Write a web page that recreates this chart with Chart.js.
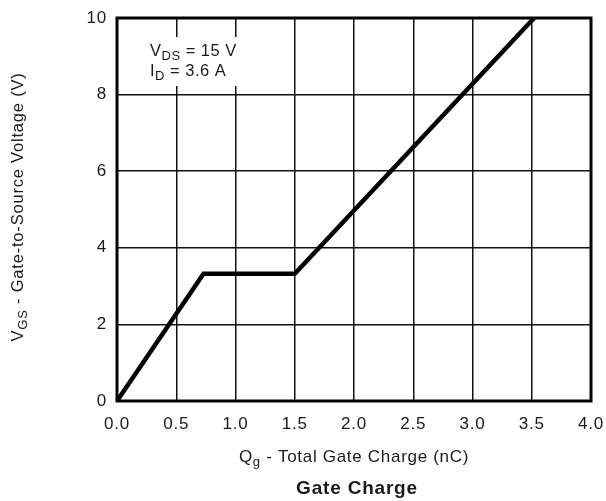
<!DOCTYPE html>
<html>
<head>
<meta charset="utf-8">
<script src="https://cdn.jsdelivr.net/npm/chart.js@4/dist/chart.umd.min.js"></script>
<style>
  html, body { margin: 0; padding: 0; background: #fff; }
  #wrap { width: 606px; height: 501px; }
</style>
</head>
<body>
<div id="wrap"><canvas id="c" width="606" height="501"></canvas></div>
<script>
// Gate charge curve: total gate charge (nC) vs. gate-to-source voltage (V)
const gateCharge = [0, 0.73, 1.5, 3.52];
const gateVoltage = [0, 3.32, 3.32, 10];

// Axis ranges and tick steps
const xRange = [0, 4];
const xStep = 0.5;
const yRange = [0, 10];
const yStep = 2;

// Test-condition note
const noteLines = [
  { main: 'V', sub: 'DS', rest: ' = 15 V' },
  { main: 'I', sub: 'D', rest: ' = 3.6 A' }
];

const FONT = '"Liberation Sans", Arial, Helvetica, sans-serif';
const TEXT = '#1a1a1a';

function drawSubText(ctx, x, y, main, sub, rest, size, align) {
  const subSize = Math.round(size * 0.78);
  ctx.font = size + 'px ' + FONT;
  const wMain = ctx.measureText(main).width;
  ctx.font = subSize + 'px ' + FONT;
  const wSub = ctx.measureText(sub).width;
  ctx.font = size + 'px ' + FONT;
  const wRest = ctx.measureText(rest).width;
  const total = wMain + wSub + wRest;
  const start = align === 'center' ? x - total / 2 : x;
  ctx.textAlign = 'left';
  ctx.textBaseline = 'alphabetic';
  ctx.font = size + 'px ' + FONT;
  ctx.fillText(main, start, y);
  ctx.font = subSize + 'px ' + FONT;
  ctx.fillText(sub, start + wMain, y + size * 0.22);
  ctx.font = size + 'px ' + FONT;
  ctx.fillText(rest, start + wMain + wSub, y);
}

const decorations = {
  id: 'decorations',
  beforeInit(chart) {
    chart.ctx.letterSpacing = '0.8px';
  },
  beforeDraw(chart) {
    chart.ctx.letterSpacing = '0.8px';
  },
  beforeDatasetsDraw(chart) {
    const { ctx, chartArea } = chart;
    ctx.save();
    ctx.letterSpacing = '0.5px';
    // white panel behind the note
    ctx.fillStyle = '#fff';
    ctx.fillRect(chartArea.left + 31, chartArea.top + 19, 100, 49);
    ctx.fillStyle = TEXT;
    noteLines.forEach((l, i) => {
      drawSubText(ctx, chartArea.left + 33, chartArea.top + 38 + i * 20, l.main, l.sub, l.rest, 16.5, 'left');
    });
    ctx.restore();
  },
  afterDraw(chart) {
    const { ctx, chartArea } = chart;
    ctx.save();
    // heavy frame around the plot
    ctx.strokeStyle = '#000';
    ctx.lineWidth = 3;
    ctx.strokeRect(chartArea.left, chartArea.top, chartArea.right - chartArea.left, chartArea.bottom - chartArea.top);

    ctx.fillStyle = TEXT;
    ctx.letterSpacing = '0.7px';
    // x axis title
    drawSubText(ctx, 354, 462, 'Q', 'g', ' - Total Gate Charge (nC)', 17, 'center');
    // chart caption
    ctx.letterSpacing = '0.8px';
    ctx.font = 'bold 19px ' + FONT;
    ctx.textAlign = 'center';
    ctx.textBaseline = 'alphabetic';
    ctx.fillText('Gate Charge', 357, 494);
    // y axis title
    ctx.translate(23, 207);
    ctx.rotate(-Math.PI / 2);
    drawSubText(ctx, 0, 0, 'V', 'GS', ' - Gate-to-Source Voltage (V)', 16.5, 'center');
    ctx.restore();
  }
};

const canvas = document.getElementById('c');
canvas.getContext('2d').letterSpacing = '0.8px';

new Chart(canvas, {
  type: 'line',
  data: {
    datasets: [{
      data: gateCharge.map((q, i) => ({ x: q, y: gateVoltage[i] })),
      borderColor: '#000',
      borderWidth: 4.5,
      pointRadius: 0,
      tension: 0,
      fill: false,
      borderJoinStyle: 'miter'
    }]
  },
  options: {
    responsive: false,
    animation: false,
    devicePixelRatio: 1,
    layout: { padding: { top: 18, right: 15, bottom: 0, left: 0 } },
    plugins: { legend: { display: false }, tooltip: { enabled: false } },
    scales: {
      x: {
        type: 'linear',
        min: xRange[0],
        max: xRange[1],
        ticks: {
          stepSize: xStep,
          color: TEXT,
          font: { family: FONT, size: 17 },
          padding: 13,
          maxRotation: 0,
          callback: v => v.toFixed(1)
        },
        grid: { color: '#111', lineWidth: 1.5, drawTicks: false },
        border: { display: false },
        afterFit(scale) {
          scale.height = 100;
          scale.paddingLeft = 0;
          scale.paddingRight = 0;
        }
      },
      y: {
        type: 'linear',
        min: yRange[0],
        max: yRange[1],
        ticks: {
          stepSize: yStep,
          color: TEXT,
          font: { family: FONT, size: 17 },
          padding: 10
        },
        grid: { color: '#111', lineWidth: 1.5, drawTicks: false },
        border: { display: false },
        afterFit(scale) {
          scale.width = 117;
          scale.paddingTop = 0;
          scale.paddingBottom = 0;
        }
      }
    }
  },
  plugins: [decorations]
});
</script>
</body>
</html>
